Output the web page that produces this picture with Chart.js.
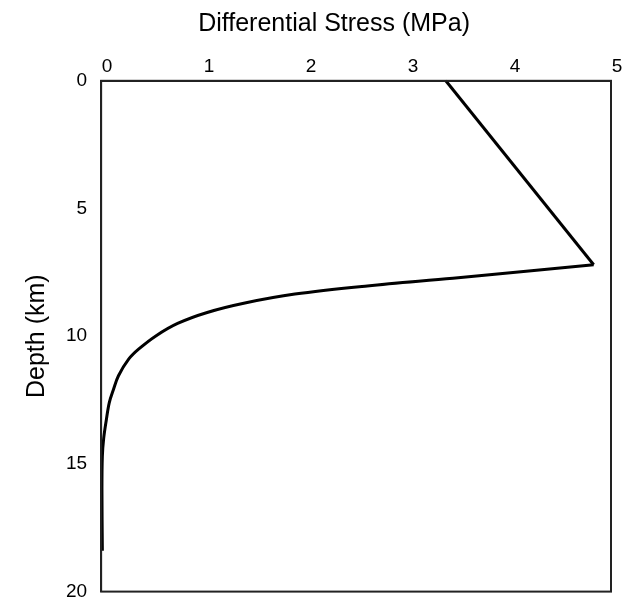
<!DOCTYPE html>
<html>
<head>
<meta charset="utf-8">
<script src="https://cdn.jsdelivr.net/npm/chart.js@4/dist/chart.umd.min.js"></script>
<style>
  html, body { margin: 0; padding: 0; background: #fff; }
  #wrap { width: 633px; height: 603px; }
</style>
</head>
<body>
<div id="wrap"><canvas id="grafico"></canvas></div>
<script>
// Tramo recto (superficie -> pico)
const stressUpper = [3.38, 4.83];
const depthUpper = [0, 7.2];

// Tramo curvo (pico -> fondo)
const stressLower = [4.83, 4.27, 3.45, 2.61, 1.90, 1.41, 1.04, 0.75, 0.54, 0.37, 0.27, 0.17, 0.12, 0.08, 0.05, 0.025, 0.012, 0.008, 0.012];
const depthLower = [7.2, 7.42, 7.73, 8.03, 8.35, 8.70, 9.07, 9.5, 9.98, 10.5, 10.9, 11.55, 12.1, 12.6, 13.3, 14.0, 14.7, 16.0, 18.4];

const stressTicks = [0, 1, 2, 3, 4, 5];
const depthTicks = [0, 5, 10, 15, 20];

const tituloX = 'Differential Stress (MPa)';
const tituloY = 'Depth (km)';

const FONT = '"Liberation Sans", Arial, sans-serif';

function toPoints(xs, ys) {
    return xs.map((x, i) => ({ x: x, y: ys[i] }));
}

// Marco completo del área de trazado + título superior (algo a la izquierda del centro, como el original)
const marco = {
    id: 'marco',
    afterDraw(chart) {
        const { ctx, chartArea: a } = chart;
        ctx.save();
        ctx.strokeStyle = '#222';
        ctx.lineWidth = 2;
        ctx.strokeRect(a.left, a.top, a.right - a.left, a.bottom - a.top);

        ctx.fillStyle = '#000';
        ctx.font = '25px ' + FONT;
        ctx.textAlign = 'center';
        ctx.textBaseline = 'middle';
        ctx.fillText(tituloX, (a.left + a.right) / 2 - 22, 24);
        ctx.restore();
    }
};

new Chart(document.getElementById('grafico').getContext('2d'), {
    type: 'scatter',
    data: {
        datasets: [
            {
                data: toPoints(stressUpper, depthUpper),
                showLine: true,
                borderColor: '#000',
                borderWidth: 3,
                pointRadius: 0,
                tension: 0,
                clip: 4
            },
            {
                data: toPoints(stressLower, depthLower),
                showLine: true,
                borderColor: '#000',
                borderWidth: 3,
                pointRadius: 0,
                tension: 0.35,
                clip: 4
            }
        ]
    },
    options: {
        responsive: true,
        maintainAspectRatio: false,
        animation: false,
        layout: { padding: { left: 0, right: 22, top: 52, bottom: 0 } },
        plugins: {
            legend: { display: false },
            tooltip: { enabled: false }
        },
        scales: {
            x: {
                type: 'linear',
                position: 'top',
                min: 0,
                max: 5,
                afterBuildTicks: s => { s.ticks = stressTicks.map(v => ({ value: v })); },
                grid: { display: false, drawTicks: false },
                border: { display: true, color: '#222', width: 2 },
                ticks: {
                    color: '#000',
                    font: { family: FONT, size: 19 },
                    padding: 3,
                    labelOffset: 6,
                    maxRotation: 0
                },
                title: { display: false }
            },
            y: {
                type: 'linear',
                reverse: true,
                min: 0,
                max: 20,
                afterBuildTicks: s => { s.ticks = depthTicks.map(v => ({ value: v })); },
                // sin líneas de rejilla; tickLength solo separa las etiquetas del eje
                grid: { display: false, drawTicks: true, tickLength: 14 },
                border: { display: true, color: '#222', width: 2 },
                ticks: {
                    color: '#000',
                    font: { family: FONT, size: 19 },
                    padding: 0
                },
                title: {
                    display: true,
                    text: tituloY,
                    color: '#000',
                    font: { family: FONT, size: 25 },
                    padding: { top: 22, bottom: 14 }
                }
            }
        }
    },
    plugins: [marco]
});
</script>
</body>
</html>
